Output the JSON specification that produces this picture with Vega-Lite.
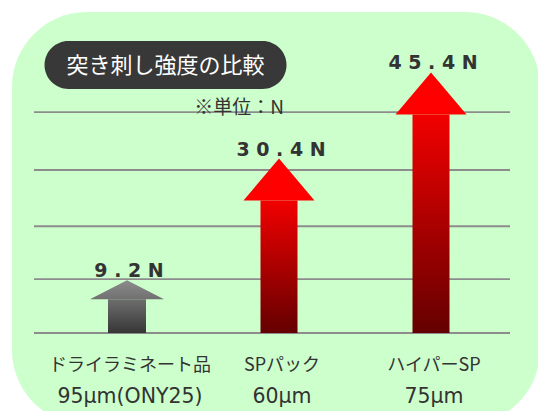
{
  "$schema": "https://vega.github.io/schema/vega-lite/v6.json",
  "width": 538,
  "height": 411,
  "autosize": "none",
  "padding": 0,
  "background": "white",
  "config": {"view": {"stroke": null}},
  "datasets": {
    "arrows": [
      {"name": "ドライラミネート品", "spec": "95μm(ONY25)", "value": 9.2, "label": "9 . 2 N", "kind": "gray"},
      {"name": "SPパック", "spec": "60μm", "value": 30.4, "label": "3 0 . 4 N", "kind": "red"},
      {"name": "ハイパーSP", "spec": "75μm", "value": 45.4, "label": "4 5 . 4 N", "kind": "red"}
    ],
    "grid": [{"g": 0}, {"g": 9.4}, {"g": 18.6}, {"g": 28.4}, {"g": 38.5}],
    "one": [{}]
  },
  "resolve": {"scale": {"x": "independent"}},
  "layer": [
    {
      "data": {"name": "one"},
      "mark": {"type": "point", "shape": "M-0.7,-0.7648 L0.7,-0.7648 C0.8534,-0.7648 0.9778,-0.6404 0.9778,-0.487 L0.9778,0.487 C0.9778,0.6404 0.8534,0.7648 0.7,0.7648 L-0.7,0.7648 C-0.8534,0.7648 -0.9778,0.6404 -0.9778,0.487 L-0.9778,-0.487 C-0.9778,-0.6404 -0.8534,-0.7648 -0.7,-0.7648 Z", "size": 291600, "filled": true, "color": "#CCFFCC", "opacity": 1, "strokeWidth": 0},
      "encoding": {
        "x": {"datum": 0.5084, "type": "quantitative", "scale": {"domain": [-0.0714, 1.0588], "nice": false, "zero": false}, "axis": null},
        "y": {"datum": 19.95, "type": "quantitative", "scale": {"domain": [-13.59, 58.02], "nice": false, "zero": false}, "axis": null}
      }
    },
    {
      "data": {"name": "grid"},
      "mark": {"type": "rule", "color": "#8c8c8c", "strokeWidth": 1.8},
      "encoding": {
        "x": {"datum": 0, "type": "quantitative", "scale": {"domain": [-0.0714, 1.0588], "nice": false, "zero": false}, "axis": null},
        "x2": {"datum": 1},
        "y": {"field": "g", "type": "quantitative", "scale": {"domain": [-13.59, 58.02], "nice": false, "zero": false}, "axis": null}
      }
    },
    {
      "data": {"name": "one"},
      "mark": {"type": "text", "text": "※単位：N", "font": "Noto Sans CJK JP", "fontSize": 19, "color": "#333333", "align": "center", "baseline": "middle"},
      "encoding": {
        "x": {"datum": 0.4307, "type": "quantitative", "scale": {"domain": [-0.0714, 1.0588], "nice": false, "zero": false}, "axis": null},
        "y": {"datum": 39.2, "type": "quantitative", "scale": {"domain": [-13.59, 58.02], "nice": false, "zero": false}, "axis": null}
      }
    },
    {
      "data": {"name": "arrows"},
      "transform": [{"filter": "datum.kind == 'gray'"}],
      "mark": {"type": "bar", "size": 38, "yOffset": 19, "color": {"gradient": "linear", "x1": 0, "y1": 0, "x2": 0, "y2": 1, "stops": [{"offset": 0, "color": "#6e6e6e"}, {"offset": 1, "color": "#363636"}]}},
      "encoding": {
        "x": {"field": "name", "type": "nominal", "sort": null, "scale": {"type": "band", "domain": ["ドライラミネート品", "SPパック", "ハイパーSP"], "paddingInner": 0, "paddingOuter": 0.2697, "align": 0.622}, "axis": null},
        "y": {"field": "value", "type": "quantitative", "scale": {"domain": [-13.59, 58.02], "nice": false, "zero": false}, "axis": null},
        "y2": {"datum": 0}
      }
    },
    {
      "data": {"name": "arrows"},
      "transform": [{"filter": "datum.kind == 'gray'"}],
      "mark": {"type": "point", "shape": "M0,0 L1,0.5135 L-1,0.5135 Z", "size": 5476, "filled": true, "opacity": 1, "strokeWidth": 0, "color": {"gradient": "linear", "x1": 0, "y1": 0, "x2": 0, "y2": 1, "stops": [{"offset": 0, "color": "#8c8c8c"}, {"offset": 1, "color": "#707070"}]}},
      "encoding": {
        "x": {"field": "name", "type": "nominal", "sort": null, "scale": {"type": "band", "domain": ["ドライラミネート品", "SPパック", "ハイパーSP"], "paddingInner": 0, "paddingOuter": 0.2697, "align": 0.622}, "axis": null},
        "y": {"field": "value", "type": "quantitative", "scale": {"domain": [-13.59, 58.02], "nice": false, "zero": false}, "axis": null}
      }
    },
    {
      "data": {"name": "arrows"},
      "transform": [{"filter": "datum.kind == 'red'"}],
      "mark": {"type": "bar", "size": 37, "yOffset": 42, "color": {"gradient": "linear", "x1": 0, "y1": 0, "x2": 0, "y2": 1, "stops": [{"offset": 0, "color": "#F20000"}, {"offset": 1, "color": "#640000"}]}},
      "encoding": {
        "x": {"field": "name", "type": "nominal", "sort": null, "scale": {"type": "band", "domain": ["ドライラミネート品", "SPパック", "ハイパーSP"], "paddingInner": 0, "paddingOuter": 0.2697, "align": 0.622}, "axis": null},
        "y": {"field": "value", "type": "quantitative", "scale": {"domain": [-13.59, 58.02], "nice": false, "zero": false}, "axis": null},
        "y2": {"datum": 0}
      }
    },
    {
      "data": {"name": "arrows"},
      "transform": [{"filter": "datum.kind == 'red'"}],
      "mark": {"type": "point", "shape": "M0,0 L0.9595,1.1351 L-0.9595,1.1351 Z", "size": 5476, "filled": true, "opacity": 1, "strokeWidth": 0, "color": "#FF0000"},
      "encoding": {
        "x": {"field": "name", "type": "nominal", "sort": null, "scale": {"type": "band", "domain": ["ドライラミネート品", "SPパック", "ハイパーSP"], "paddingInner": 0, "paddingOuter": 0.2697, "align": 0.622}, "axis": null},
        "y": {"field": "value", "type": "quantitative", "scale": {"domain": [-13.59, 58.02], "nice": false, "zero": false}, "axis": null}
      }
    },
    {
      "data": {"name": "one"},
      "mark": {"type": "point", "shape": "M-0.802,-0.198 L0.802,-0.198 C0.911,-0.198 1,-0.109 1,0 C1,0.109 0.911,0.198 0.802,0.198 L-0.802,0.198 C-0.911,0.198 -1,0.109 -1,0 C-1,-0.109 -0.911,-0.198 -0.802,-0.198 Z", "size": 58564, "filled": true, "color": "#383838", "opacity": 1, "strokeWidth": 0},
      "encoding": {
        "x": {"datum": 0.2763, "type": "quantitative", "scale": {"domain": [-0.0714, 1.0588], "nice": false, "zero": false}, "axis": null},
        "y": {"datum": 46.7, "type": "quantitative", "scale": {"domain": [-13.59, 58.02], "nice": false, "zero": false}, "axis": null}
      }
    },
    {
      "data": {"name": "one"},
      "mark": {"type": "text", "text": "突き刺し強度の比較", "font": "Noto Sans CJK JP", "fontSize": 22, "color": "white", "align": "center", "baseline": "middle"},
      "encoding": {
        "x": {"datum": 0.2763, "type": "quantitative", "scale": {"domain": [-0.0714, 1.0588], "nice": false, "zero": false}, "axis": null},
        "y": {"datum": 46.52, "type": "quantitative", "scale": {"domain": [-13.59, 58.02], "nice": false, "zero": false}, "axis": null}
      }
    },
    {
      "data": {"name": "arrows"},
      "mark": {"type": "text", "font": "DejaVu Sans", "fontWeight": "bold", "fontSize": 19, "color": "#333333", "align": "center", "baseline": "alphabetic", "dy": -3, "dx": 2},
      "encoding": {
        "x": {"field": "name", "type": "nominal", "sort": null, "scale": {"type": "band", "domain": ["ドライラミネート品", "SPパック", "ハイパーSP"], "paddingInner": 0, "paddingOuter": 0.2697, "align": 0.622}, "axis": null},
        "y": {"field": "value", "type": "quantitative", "scale": {"domain": [-13.59, 58.02], "nice": false, "zero": false}, "axis": null},
        "text": {"field": "label"}
      }
    },
    {
      "data": {"name": "arrows"},
      "mark": {"type": "text", "font": "Noto Sans CJK JP", "fontSize": 18, "color": "#333333", "align": "center", "baseline": "alphabetic", "dx": 3},
      "encoding": {
        "x": {"field": "name", "type": "nominal", "sort": null, "scale": {"type": "band", "domain": ["ドライラミネート品", "SPパック", "ハイパーSP"], "paddingInner": 0, "paddingOuter": 0.2697, "align": 0.622}, "axis": null},
        "y": {"datum": -6.62, "type": "quantitative", "scale": {"domain": [-13.59, 58.02], "nice": false, "zero": false}, "axis": null},
        "text": {"field": "name"}
      }
    },
    {
      "data": {"name": "arrows"},
      "mark": {"type": "text", "font": "DejaVu Sans", "fontSize": 20.5, "color": "#333333", "align": "center", "baseline": "alphabetic", "dx": 3},
      "encoding": {
        "x": {"field": "name", "type": "nominal", "sort": null, "scale": {"type": "band", "domain": ["ドライラミネート品", "SPパック", "ハイパーSP"], "paddingInner": 0, "paddingOuter": 0.2697, "align": 0.622}, "axis": null},
        "y": {"datum": -12.2, "type": "quantitative", "scale": {"domain": [-13.59, 58.02], "nice": false, "zero": false}, "axis": null},
        "text": {"field": "spec"}
      }
    }
  ]
}
